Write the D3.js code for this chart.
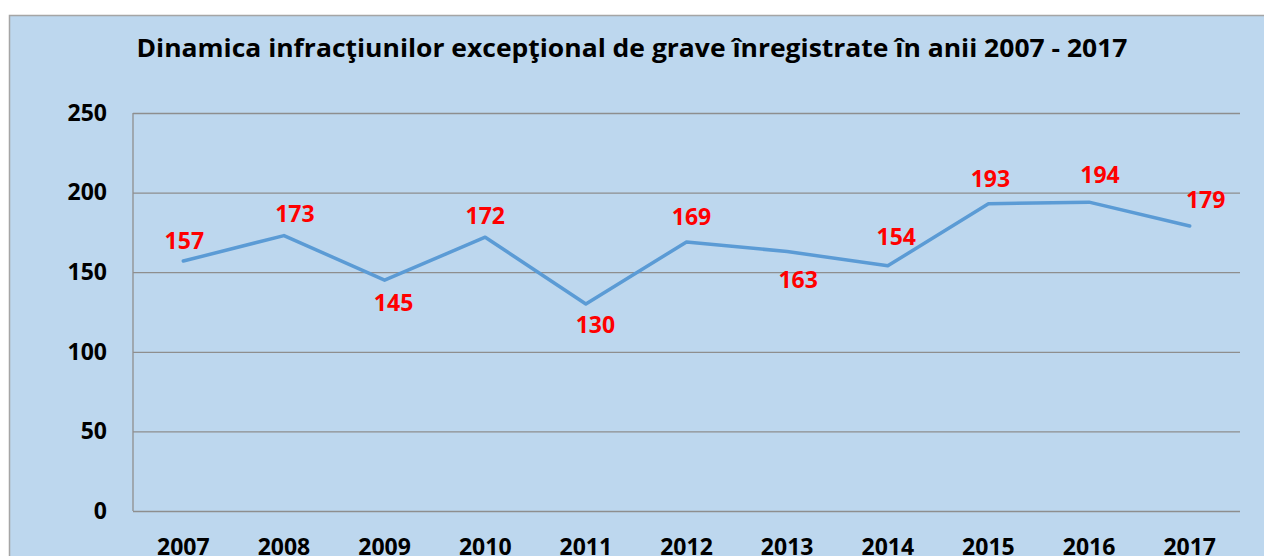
<!DOCTYPE html>
<html>
<head>
<meta charset="utf-8">
<script src="https://cdn.jsdelivr.net/npm/d3@7"></script>
<style>
  html, body { margin: 0; padding: 0; background: #ffffff; }
  svg { display: block; }
  text { font-family: "Open Sans", "Noto Sans", sans-serif; font-weight: bold; }
</style>
</head>
<body>
<svg id="chart" width="1264" height="556"></svg>
<script>
// ---- Data ----
const titleText = "Dinamica infracţiunilor excepţional de grave înregistrate în anii 2007 - 2017";
const years = ["2007", "2008", "2009", "2010", "2011", "2012", "2013", "2014", "2015", "2016", "2017"];
const values = [157, 173, 145, 172, 130, 169, 163, 154, 193, 194, 179];
const yTicks = [0, 50, 100, 150, 200, 250];
// manual label offsets (px) relative to each point, as placed in the original
const labelDx = [1, 11, 9, 0, 9.5, 5, 11, 8.5, 2, 11, 16];
const labelDy = [-20, -22, 23, -21, 21, -25.5, 28, -29, -25, -27, -26];

// ---- Layout ----
const svg = d3.select("#chart");
const W = 1264, H = 556;
const plot = { left: 133, right: 1240, top: 113, bottom: 511 };

svg.append("rect").attr("x", 0).attr("y", 0).attr("width", W).attr("height", H).attr("fill", "#ffffff");
svg.append("rect")
  .attr("x", 9.5).attr("y", 15.5).attr("width", W + 20).attr("height", H + 20)
  .attr("fill", "#BDD7EE").attr("stroke", "#A5A5A5").attr("stroke-width", 1.5);

const x = d3.scaleBand().domain(years).range([plot.left, plot.right]);
const y = d3.scaleLinear().domain([0, 250]).range([plot.bottom, plot.top]);
const cx = d => x(d) + x.bandwidth() / 2;

// Title
const title = svg.append("text")
  .attr("x", 632).attr("y", 57)
  .attr("text-anchor", "middle")
  .attr("font-size", 25.5)
  .attr("fill", "#000")
  .text(titleText);
const tl = title.node().getComputedTextLength();
if (Math.abs(tl - 991) > 4) title.attr("textLength", 991).attr("lengthAdjust", "spacingAndGlyphs");

// Y axis with gridlines
const yAxis = svg.append("g")
  .attr("transform", `translate(${plot.left},0)`)
  .call(d3.axisLeft(y).tickValues(yTicks).tickSize(-(plot.right - plot.left)).tickPadding(26));
yAxis.select(".domain").remove();
yAxis.selectAll(".tick line").attr("stroke", "#8E8E8E").attr("stroke-width", 1.3);
yAxis.selectAll(".tick text")
  .attr("font-size", 23).attr("fill", "#000")
  .attr("font-family", "'Open Sans', 'Noto Sans', sans-serif").attr("font-weight", "bold");

// vertical axis line
svg.append("line")
  .attr("x1", plot.left).attr("x2", plot.left)
  .attr("y1", y(250)).attr("y2", y(0))
  .attr("stroke", "#8E8E8E").attr("stroke-width", 1.3);

// X axis labels
const xAxis = svg.append("g")
  .attr("transform", `translate(0,${plot.bottom})`)
  .call(d3.axisBottom(x).tickSize(0).tickPadding(27.5));
xAxis.select(".domain").remove();
xAxis.selectAll(".tick text")
  .attr("font-size", 23).attr("fill", "#000")
  .attr("font-family", "'Open Sans', 'Noto Sans', sans-serif").attr("font-weight", "bold");

// Line
const line = d3.line().x((d, i) => cx(years[i])).y(d => y(d));
svg.append("path")
  .datum(values)
  .attr("d", line)
  .attr("fill", "none")
  .attr("stroke", "#5B9BD5")
  .attr("stroke-width", 3.5)
  .attr("stroke-linejoin", "round")
  .attr("stroke-linecap", "round");

// Data labels
svg.append("g").selectAll("text")
  .data(values)
  .join("text")
  .attr("x", (d, i) => cx(years[i]) + labelDx[i])
  .attr("y", (d, i) => y(d) + labelDy[i])
  .attr("dy", "0.36em")
  .attr("text-anchor", "middle")
  .attr("font-size", 23)
  .attr("fill", "#FF0000")
  .text(d => d);
</script>
</body>
</html>
